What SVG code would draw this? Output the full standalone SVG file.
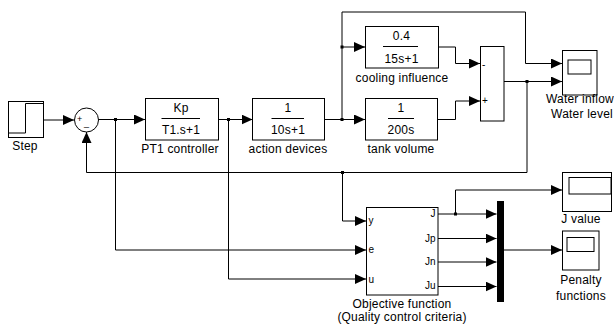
<svg xmlns="http://www.w3.org/2000/svg" width="614" height="325" viewBox="0 0 614 325">
<style>
text{font-family:"Liberation Sans",Arial,sans-serif;font-size:12px;fill:#000;letter-spacing:0.2px}
.c{text-anchor:middle}
.p{font-size:10px;letter-spacing:0}
.r{text-anchor:end}
.blk{fill:#fff;stroke:#000;stroke-width:1}
.ln{fill:none;stroke:#000;stroke-width:1}
.w{stroke:#000;stroke-width:1;fill:none;marker-end:url(#ar)}
.dot{fill:#000}
</style>
<defs>
<marker id="ar" markerUnits="userSpaceOnUse" markerWidth="11" markerHeight="10" refX="11" refY="5" orient="auto">
<path d="M0,0 L11,5 L0,10 z" fill="#000"/>
</marker>
</defs>
<rect width="614" height="325" fill="#fff"/>
<g id="connectors">
<path class="w" d="M43.5,120 H74"/>
<path class="w" d="M98,119.5 H145"/>
<path class="w" d="M218.5,119.5 H252.5"/>
<path class="w" d="M324.5,119.5 H365"/>
<path class="w" d="M342,119.5 V12 H525.5 V63.5 H562"/>
<path class="w" d="M342,47 H365"/>
<path class="w" d="M438,47 H455.5 V63.5 H480"/>
<path class="w" d="M437.5,119.5 H455.5 V101 H480"/>
<path class="w" d="M504,81.5 H562"/>
<path class="w" d="M527,81.5 V172.5 H86.5 V132"/>
<path class="w" d="M342.5,172.5 V221 H366"/>
<path class="w" d="M115.5,119.5 V250 H366"/>
<path class="w" d="M228.5,119.5 V279 H366"/>
<path class="w" d="M438,214 H496.5"/>
<path class="w" d="M455.5,214 V190 H562"/>
<path class="w" d="M438,238.5 H496.5"/>
<path class="w" d="M438,262 H496.5"/>
<path class="w" d="M438,286.5 H496.5"/>
<path class="w" d="M504,250 H562"/>
<rect class="dot" x="114" y="118" width="3" height="3"/>
<rect class="dot" x="227" y="118" width="3" height="3"/>
<rect class="dot" x="340.5" y="118" width="3" height="3"/>
<rect class="dot" x="340.5" y="45.5" width="3" height="3"/>
<rect class="dot" x="525.5" y="80" width="3" height="3"/>
<rect class="dot" x="341" y="171" width="3" height="3"/>
<rect class="dot" x="454" y="212.5" width="3" height="3"/>
</g>
<g id="step">
<rect class="blk" x="8.5" y="101.5" width="35" height="36"/>
<path class="ln" d="M9,133 H25.5 V103.5 H43"/>
<text class="c" x="25" y="150">Step</text>
</g>
<g id="sum1">
<circle class="blk" cx="86.5" cy="120" r="12"/>
<text x="77" y="122" style="font-size:9px">+</text>
<text x="84" y="126" style="font-size:9px">_</text>
</g>
<g id="pt1">
<rect class="blk" x="145.5" y="98.5" width="73" height="41.5"/>
<path class="ln" d="M161.5,118.5 H200"/>
<text class="c" x="181" y="111.5">Kp</text>
<text class="c" x="181" y="134">T1.s+1</text>
<text class="c" x="180" y="153">PT1 controller</text>
</g>
<g id="action">
<rect class="blk" x="252.5" y="98.5" width="72" height="41.5"/>
<path class="ln" d="M271.5,118.5 H304"/>
<text class="c" x="288" y="111.5">1</text>
<text class="c" x="288" y="134">10s+1</text>
<text class="c" x="288" y="153">action devices</text>
</g>
<g id="tank">
<rect class="blk" x="365.5" y="98.5" width="72" height="41.5"/>
<path class="ln" d="M388,118.5 H414"/>
<text class="c" x="401" y="111.5">1</text>
<text class="c" x="401" y="134">200s</text>
<text class="c" x="401" y="153">tank volume</text>
</g>
<g id="cooling">
<rect class="blk" x="365.5" y="26.5" width="73" height="41.5"/>
<path class="ln" d="M383,46.5 H418"/>
<text class="c" x="401.5" y="40">0.4</text>
<text class="c" x="401.5" y="63">15s+1</text>
<text class="c" x="402" y="82">cooling influence</text>
</g>
<g id="sum2">
<rect class="blk" x="480.5" y="46.5" width="23.5" height="74.5"/>
<text x="482" y="68" style="font-size:10px">-</text>
<text x="482" y="104" style="font-size:10px">+</text>
</g>
<g id="scope-water">
<rect class="blk" x="562.5" y="50.5" width="34.5" height="44.5"/>
<rect class="blk" x="568" y="60" width="23" height="14"/>
<text class="c" x="580" y="103">Water inflow</text>
<text class="c" x="582" y="118">Water level</text>
</g>
<g id="objective">
<rect class="blk" x="366.5" y="207.5" width="71.5" height="87.5"/>
<text class="p" x="368.5" y="224">y</text>
<text class="p" x="368.5" y="253">e</text>
<text class="p" x="368.5" y="283">u</text>
<text class="p r" x="435.5" y="217">J</text>
<text class="p r" x="435.5" y="241.5">Jp</text>
<text class="p r" x="435.5" y="265">Jn</text>
<text class="p r" x="435.5" y="289">Ju</text>
<text class="c" x="402" y="308">Objective function</text>
<text class="c" x="402" y="321">(Quality control criteria)</text>
</g>
<g id="mux">
<rect x="497" y="201" width="7" height="101" fill="#000"/>
</g>
<g id="scope-j">
<rect class="blk" x="562.5" y="172.5" width="49" height="39"/>
<rect class="blk" x="569" y="177.5" width="42" height="16.5"/>
<text class="c" x="581" y="223">J value</text>
</g>
<g id="scope-penalty">
<rect class="blk" x="562.5" y="231" width="36.5" height="39"/>
<rect class="blk" x="567" y="237.5" width="27" height="14"/>
<text class="c" x="581" y="284">Penalty</text>
<text class="c" x="581" y="300">functions</text>
</g>
</svg>
